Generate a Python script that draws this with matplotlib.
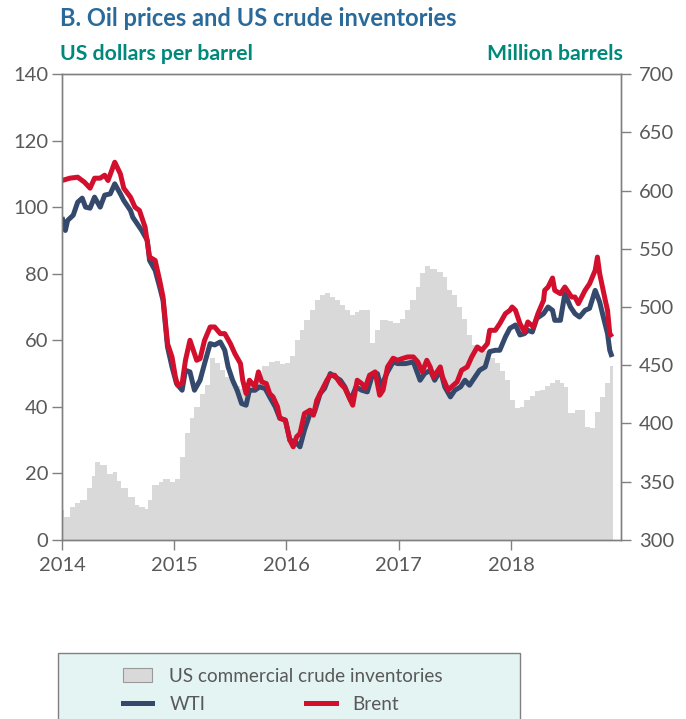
import matplotlib
matplotlib.use("Agg")
import matplotlib.pyplot as plt
from matplotlib.patches import Rectangle, Patch
from matplotlib.lines import Line2D

plt.rcParams['font.family'] = ['Lato', 'DejaVu Sans']

# Brent, US$ per barrel (time in decimal years)
brent_t = [2014.00, 2014.07, 2014.14, 2014.20, 2014.25, 2014.29, 2014.34, 2014.38, 2014.41, 2014.47,
           2014.52, 2014.55, 2014.61, 2014.65, 2014.69, 2014.74, 2014.78, 2014.83, 2014.87, 2014.90,
           2014.92, 2014.94, 2014.98, 2015.01, 2015.03, 2015.07, 2015.10, 2015.14, 2015.17, 2015.20,
           2015.23, 2015.27, 2015.32, 2015.36, 2015.41, 2015.45, 2015.50, 2015.54, 2015.59, 2015.61,
           2015.64, 2015.67, 2015.72, 2015.75, 2015.78, 2015.82, 2015.85, 2015.88, 2015.92, 2015.94,
           2015.99, 2016.03, 2016.06, 2016.09, 2016.12, 2016.16, 2016.21, 2016.24, 2016.27, 2016.30,
           2016.33, 2016.36, 2016.39, 2016.43, 2016.48, 2016.52, 2016.57, 2016.59, 2016.63, 2016.67,
           2016.70, 2016.74, 2016.79, 2016.83, 2016.86, 2016.90, 2016.95, 2016.99, 2017.04, 2017.08,
           2017.13, 2017.17, 2017.21, 2017.25, 2017.28, 2017.31, 2017.37, 2017.39, 2017.44, 2017.47,
           2017.52, 2017.56, 2017.61, 2017.65, 2017.70, 2017.74, 2017.79, 2017.81, 2017.86, 2017.90,
           2017.95, 2017.99, 2018.01, 2018.04, 2018.08, 2018.12, 2018.15, 2018.20, 2018.24, 2018.29,
           2018.30, 2018.33, 2018.37, 2018.39, 2018.44, 2018.48, 2018.51, 2018.54, 2018.57, 2018.60,
           2018.63, 2018.66, 2018.70, 2018.75, 2018.77, 2018.79, 2018.84, 2018.86, 2018.88, 2018.90]
brent = [108, 108.7, 109, 107.5, 105.7, 108.7, 108.7, 109.6, 108, 113.5,
         110, 105.7, 103, 100, 99, 94, 85, 84, 78, 73,
         66, 59, 55, 49, 46.5, 47, 54, 60, 57, 54,
         54.5, 60, 64, 64, 62, 62, 59, 56, 53, 48,
         44, 48, 46, 50.5, 47.5, 47, 44, 43, 40, 36.6,
         36, 30, 28, 31, 32, 38, 39, 37.5, 42, 44,
         46, 48, 49.5, 49.5, 47, 45.6, 42, 40.5, 48, 47,
         45.6, 49.5, 50.5, 43.5, 45, 52, 54.6, 54, 54.6, 55,
         55, 53.5, 50.5, 54, 52, 49, 52, 49, 45, 46,
         47.5, 51, 52, 55, 58, 57, 59, 63, 63, 65,
         68, 69, 70, 69, 65, 62.5, 65.5, 64, 68, 72,
         75, 76, 78.7, 75, 74, 76, 74.5, 73, 73, 71,
         73, 75, 77, 81, 85, 80, 72, 69, 62, 61]

# WTI, US$ per barrel
wti_t = [2014.00, 2014.03, 2014.05, 2014.10, 2014.14, 2014.18, 2014.21, 2014.25, 2014.29, 2014.34,
         2014.38, 2014.43, 2014.47, 2014.52, 2014.55, 2014.61, 2014.63, 2014.67, 2014.71, 2014.76,
         2014.78, 2014.83, 2014.87, 2014.90, 2014.94, 2014.98, 2015.02, 2015.07, 2015.10, 2015.14,
         2015.18, 2015.23, 2015.27, 2015.32, 2015.36, 2015.41, 2015.45, 2015.48, 2015.52, 2015.56,
         2015.60, 2015.64, 2015.67, 2015.72, 2015.76, 2015.81, 2015.85, 2015.90, 2015.94, 2015.99,
         2016.03, 2016.08, 2016.12, 2016.16, 2016.21, 2016.25, 2016.30, 2016.34, 2016.39, 2016.41,
         2016.48, 2016.52, 2016.57, 2016.62, 2016.67, 2016.72, 2016.76, 2016.81, 2016.84, 2016.90,
         2016.95, 2016.99, 2017.06, 2017.13, 2017.19, 2017.23, 2017.28, 2017.32, 2017.37, 2017.41,
         2017.46, 2017.50, 2017.55, 2017.59, 2017.63, 2017.68, 2017.72, 2017.77, 2017.81, 2017.86,
         2017.90, 2017.95, 2017.99, 2018.04, 2018.08, 2018.12, 2018.15, 2018.19, 2018.23, 2018.29,
         2018.33, 2018.37, 2018.39, 2018.44, 2018.48, 2018.53, 2018.57, 2018.61, 2018.66, 2018.70,
         2018.75, 2018.79, 2018.83, 2018.86, 2018.88, 2018.90]
wti = [97, 93, 96, 97.6, 101.5, 102.7, 100, 99.7, 103, 100,
       103.6, 104, 107, 104, 102, 99, 97, 95, 93, 90,
       84, 81, 76, 72, 58, 52, 47, 45, 51, 50.5,
       45, 48, 53, 59, 58.6, 59.5, 57, 52, 48, 45,
       41, 40.5, 45, 45, 46, 45.5, 43, 40, 36.6, 36,
       30, 29.5, 28, 33, 38, 38.5, 44, 45.6, 50, 49.5,
       48, 46, 42, 46, 45, 44.5, 49, 50, 46, 50.5,
       53.5, 53, 53, 53.5, 48, 50, 51, 48, 51, 46,
       43, 45, 46, 48, 46.5, 49, 51, 52, 56.6, 57,
       57, 61, 63.6, 64.6, 61.6, 62, 63, 62.5, 66.6, 68,
       70, 69, 66, 66, 74, 70, 68, 67, 69, 69.6,
       75, 71.5, 66, 62, 57, 55]

# US commercial crude inventories, million barrels
inv_t = [2014.00, 2014.02, 2014.07, 2014.12, 2014.16, 2014.22, 2014.27, 2014.29, 2014.34, 2014.40,
         2014.45, 2014.49, 2014.53, 2014.59, 2014.65, 2014.69, 2014.74, 2014.77, 2014.80, 2014.86,
         2014.90, 2014.96, 2015.01, 2015.05, 2015.10, 2015.14, 2015.18, 2015.23, 2015.27, 2015.32,
         2015.36, 2015.41, 2015.45, 2015.50, 2015.54, 2015.59, 2015.63, 2015.67, 2015.73, 2015.78,
         2015.84, 2015.90, 2015.94, 2015.99, 2016.03, 2016.08, 2016.12, 2016.16, 2016.21, 2016.25,
         2016.30, 2016.34, 2016.39, 2016.43, 2016.48, 2016.52, 2016.57, 2016.61, 2016.65, 2016.70,
         2016.74, 2016.79, 2016.83, 2016.90, 2016.95, 2017.01, 2017.06, 2017.10, 2017.15, 2017.19,
         2017.23, 2017.28, 2017.34, 2017.39, 2017.43, 2017.47, 2017.52, 2017.56, 2017.61, 2017.65,
         2017.71, 2017.77, 2017.81, 2017.86, 2017.90, 2017.95, 2017.99, 2018.04, 2018.08, 2018.12,
         2018.17, 2018.21, 2018.26, 2018.30, 2018.35, 2018.39, 2018.44, 2018.47, 2018.51, 2018.57,
         2018.61, 2018.66, 2018.70, 2018.75, 2018.79, 2018.84, 2018.88, 2018.91]
inventories = [326, 320, 328, 332, 334, 345, 355, 367, 364, 357,
               358, 351, 345, 337, 330, 328, 327, 334, 347, 350,
               352, 350, 352, 371, 392, 405, 414, 425, 433, 456,
               452, 446, 440, 436, 432, 430, 432, 435, 440, 449,
               453, 454, 451, 452, 458, 472, 480, 489, 497, 506,
               510, 512, 509, 506, 502, 497, 493, 496, 497, 497,
               469, 480, 489, 488, 486, 490, 497, 506, 517, 529,
               535, 533, 530, 526, 515, 510, 500, 490, 476, 467,
               463, 462, 456, 452, 445, 437, 420, 413, 414, 420,
               424, 428, 429, 432, 435, 437, 435, 431, 409, 412,
               412, 397, 396, 410, 423, 435, 449, 451]

years = [2014, 2015, 2016, 2017, 2018]

BG = '#E3F4F3'
GRAY_FILL = '#D9D9D9'
WTI_COL = '#34496B'
BRENT_COL = '#D2102E'
TXT = '#595959'
SPINE = '#808080'

fig = plt.figure(figsize=(6.86, 7.19), dpi=100)
ax = fig.add_axes([62 / 686, 1 - 540 / 719, 559 / 686, 466 / 719])
ax2 = ax.twinx()

# inventories behind the price lines
ax2.fill_between(inv_t, 300, inventories, step='post', color=GRAY_FILL, linewidth=0)
ax2.set_ylim(300, 700)
ax2.set_yticks(range(300, 701, 50))
ax2.patch.set_facecolor(BG)
ax.set_zorder(ax2.get_zorder() + 1)
ax.patch.set_visible(False)

ax.plot(wti_t, wti, color=WTI_COL, lw=3.6, solid_capstyle='butt', solid_joinstyle='round')
ax.plot(brent_t, brent, color=BRENT_COL, lw=3.6, solid_capstyle='butt', solid_joinstyle='round')

ax.set_ylim(0, 140)
ax.set_yticks(range(0, 141, 20))
ax.set_xlim(2014, 2018.98)
ax.set_xticks(years)
ax.set_xticklabels([str(y) for y in years])

for a in (ax, ax2):
    for s in a.spines.values():
        s.set_color(SPINE)
        s.set_linewidth(1.0)
    a.tick_params(colors=SPINE, labelcolor=TXT, labelsize=14.5, length=7, width=1, direction='out')
ax.tick_params(axis='y', pad=3)
ax.tick_params(axis='x', pad=5)
ax2.tick_params(axis='y', pad=6)

fig.text(60 / 686, 1 - 18 / 719, 'B. Oil prices and US crude inventories', color='#2A6A9A',
         fontsize=17, fontweight='bold', ha='left', va='center')
fig.text(60 / 686, 1 - 54 / 719, 'US dollars per barrel', color='#00897B',
         fontsize=15.3, fontweight='bold', ha='left', va='center')
fig.text(623 / 686, 1 - 54 / 719, 'Million barrels', color='#00897B',
         fontsize=15.3, fontweight='bold', ha='right', va='center')

# legend box at the bottom
box = Rectangle((58 / 686, 1 - 760 / 719), 462 / 686, 107 / 719, transform=fig.transFigure,
                facecolor=BG, edgecolor=SPINE, linewidth=1.0, clip_on=False)
fig.patches.append(box)

leg1 = fig.legend(handles=[Patch(facecolor=GRAY_FILL, edgecolor='#9A9A9A', linewidth=0.8)],
                  labels=['US commercial crude inventories'], loc='center left',
                  bbox_to_anchor=(106 / 686, 1 - 676 / 719), frameon=False, fontsize=13.6,
                  handlelength=1.55, handleheight=0.8, handletextpad=0.9, labelcolor=TXT)
leg2 = fig.legend(handles=[Line2D([], [], color=WTI_COL, lw=3.6), Line2D([], [], color=BRENT_COL, lw=3.6)],
                  labels=['WTI', 'Brent'], loc='center left', ncol=2,
                  bbox_to_anchor=(106 / 686, 1 - 704 / 719), frameon=False, fontsize=13.6,
                  handlelength=1.55, handletextpad=0.9, columnspacing=5.35, labelcolor=TXT)

fig.savefig('out.png', dpi=100, facecolor='white')
